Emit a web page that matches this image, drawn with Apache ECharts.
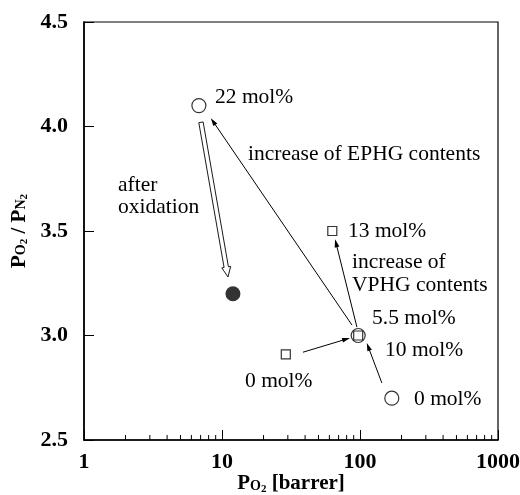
<!DOCTYPE html>
<html>
<head>
<meta charset="utf-8">
<script src="https://cdn.jsdelivr.net/npm/echarts@6/dist/echarts.min.js"></script>
<style>
  html, body { margin: 0; padding: 0; background: #fff; }
  #chart { width: 520px; height: 495px; }
</style>
</head>
<body>
<div id="chart"></div>
<script>
// open circles: EPHG series (0, 10, 22 mol%)
const ephgX = [170, 97, 6.8];
const ephgY = [2.7, 3.0, 4.1];
// open squares: VPHG series (0, 5.5, 13 mol%)
const vphgX = [29, 97, 63];
const vphgY = [2.91, 3.0, 3.5];
// filled circle: 22 mol% after oxidation
const oxidX = [12];
const oxidY = [3.2];

// arrows [x1, y1, x2, y2] in data units
const arrows = [
  [87.5, 3.05, 8.3, 4.04],
  [95, 3.04, 66, 3.46],
  [38.6, 2.92, 84.7, 2.988],
  [144, 2.773, 112, 2.964],
];
const hollowArrow = [[7.04, 4.02, 11.05, 3.28]];

const xTicks = [1, 10, 100, 1000];
const minorTicks = [2, 3, 4, 5, 6, 7, 8, 9, 20, 30, 40, 50, 60, 70, 80, 90,
  200, 300, 400, 500, 600, 700, 800, 900];

const serif = '"Liberation Serif", "Times New Roman", serif';
const textFont = 'normal 21.5px ' + serif;

const notes = [
  ["22 mol%", 215, 97],
  ["increase of EPHG contents", 248, 154],
  ["after", 118, 185],
  ["oxidation", 118, 207],
  ["13 mol%", 348, 231],
  ["increase of", 352, 262],
  ["VPHG contents", 352, 285],
  ["5.5 mol%", 372, 318],
  ["10 mol%", 385, 350],
  ["0 mol%", 245, 381],
  ["0 mol%", 414, 399],
];

function zip(xs, ys) {
  return xs.map((x, i) => [x, ys[i]]);
}

function renderArrow(params, api) {
  const a = api.coord([api.value(0), api.value(1)]);
  const b = api.coord([api.value(2), api.value(3)]);
  const dx = b[0] - a[0], dy = b[1] - a[1];
  const len = Math.sqrt(dx * dx + dy * dy);
  const ux = dx / len, uy = dy / len;
  const nx = -uy, ny = ux;
  const L = 8, W = 2.4;
  const base = [b[0] - ux * L, b[1] - uy * L];
  return {
    type: "group",
    children: [
      {
        type: "line",
        shape: { x1: a[0], y1: a[1], x2: base[0] + ux * 2, y2: base[1] + uy * 2 },
        style: { stroke: "#000", lineWidth: 1 },
      },
      {
        type: "polygon",
        shape: {
          points: [b, [base[0] + nx * W, base[1] + ny * W], [base[0] - nx * W, base[1] - ny * W]],
        },
        style: { fill: "#000" },
      },
    ],
  };
}

function renderHollow(params, api) {
  const a = api.coord([api.value(0), api.value(1)]);
  const b = api.coord([api.value(2), api.value(3)]);
  const dx = b[0] - a[0], dy = b[1] - a[1];
  const len = Math.sqrt(dx * dx + dy * dy);
  const ux = dx / len, uy = dy / len;
  const nx = -uy, ny = ux;
  const L = 10, hw = 2.2, HW = 4.5;
  const base = [b[0] - ux * L, b[1] - uy * L];
  const p = (o, w) => [o[0] + nx * w, o[1] + ny * w];
  return {
    type: "polygon",
    shape: { points: [p(a, hw), p(base, hw), p(base, HW), b, p(base, -HW), p(base, -hw), p(a, -hw)] },
    style: { fill: "#fff", stroke: "#000", lineWidth: 0.9 },
  };
}

const nameRich = {
  b: { fontFamily: serif, fontWeight: "bold", fontSize: 21, color: "#000" },
  s: { fontFamily: serif, fontWeight: "bold", fontSize: 14, color: "#000", padding: [4, 0, 0, 0] },
  ss: { fontFamily: serif, fontWeight: "bold", fontSize: 11, color: "#000", padding: [10, 0, 0, 0] },
};

const noteGraphics = notes.map(([text, x, y]) => ({
  type: "text",
  x: x,
  y: y,
  style: { text: text, font: textFont, fill: "#000", verticalAlign: "middle" },
  z: 10,
}));
// x axis title, placed as text under the tick labels
noteGraphics.push({
  type: "text",
  x: 291,
  y: 484,
  style: {
    text: "{b|P}{s|O}{ss|2}{b| [barrer]}",
    rich: nameRich,
    align: "center",
    verticalAlign: "middle",
  },
  z: 10,
});

const chart = echarts.init(document.getElementById("chart"));
chart.setOption({
  animation: false,
  grid: {
    left: 84, right: 22, top: 22, bottom: 55,
    containLabel: false,
    outerBoundsMode: "none",
    show: true, borderColor: "#000", borderWidth: 1.2,
  },
  xAxis: {
    type: "log",
    logBase: 10,
    min: 1,
    max: 1000,
    splitLine: { show: false },
    axisLine: { lineStyle: { color: "#000", width: 1.6 } },
    axisTick: {
      inside: true, length: 10, lineStyle: { color: "#000", width: 1 },
      customValues: xTicks,
    },
    axisLabel: {
      color: "#000", fontFamily: serif, fontWeight: "bold", fontSize: 22, margin: 11,
      customValues: xTicks,
      formatter: (v) => String(Math.round(v)),
    },
  },
  yAxis: {
    type: "value",
    min: 2.5,
    max: 4.5,
    interval: 0.5,
    splitLine: { show: false },
    axisLine: { lineStyle: { color: "#000", width: 1.6 } },
    axisTick: { inside: true, length: 10, lineStyle: { color: "#000", width: 1 } },
    axisLabel: {
      color: "#000", fontFamily: serif, fontWeight: "bold", fontSize: 22, margin: 16,
      formatter: (v) => v.toFixed(1),
    },
    name: "{b|P}{s|O}{ss|2}{b| / P}{s|N}{ss|2}",
    nameLocation: "middle",
    nameGap: 54,
    nameRotate: 90,
    nameTextStyle: { rich: nameRich },
  },
  series: [
    {
      type: "custom",
      clip: false,
      silent: true,
      data: minorTicks.map((v) => [v, 2.5]),
      encode: { x: 0, y: 1 },
      renderItem: (params, api) => {
        const p = api.coord([api.value(0), api.value(1)]);
        return {
          type: "line",
          shape: { x1: p[0], y1: p[1], x2: p[0], y2: p[1] - 5 },
          style: { stroke: "#000", lineWidth: 1 },
        };
      },
    },
    {
      type: "custom",
      clip: false,
      data: arrows,
      encode: { x: [0, 2], y: [1, 3] },
      renderItem: renderArrow,
    },
    {
      type: "custom",
      clip: false,
      data: hollowArrow,
      encode: { x: [0, 2], y: [1, 3] },
      renderItem: renderHollow,
      z: 3,
    },
    {
      name: "EPHG",
      type: "scatter",
      data: zip(ephgX, ephgY),
      symbol: "circle",
      symbolSize: 14,
      itemStyle: { color: "#fff", borderColor: "#000", borderWidth: 1.2 },
      z: 4,
    },
    {
      name: "VPHG",
      type: "scatter",
      data: zip(vphgX, vphgY),
      symbol: "rect",
      symbolSize: 9,
      itemStyle: { color: "#fff", borderColor: "#000", borderWidth: 1.2 },
      z: 5,
    },
    {
      name: "after oxidation",
      type: "scatter",
      data: zip(oxidX, oxidY),
      symbol: "circle",
      symbolSize: 15,
      itemStyle: { color: "#000" },
      z: 4,
    },
  ],
  graphic: noteGraphics,
});
</script>
</body>
</html>
